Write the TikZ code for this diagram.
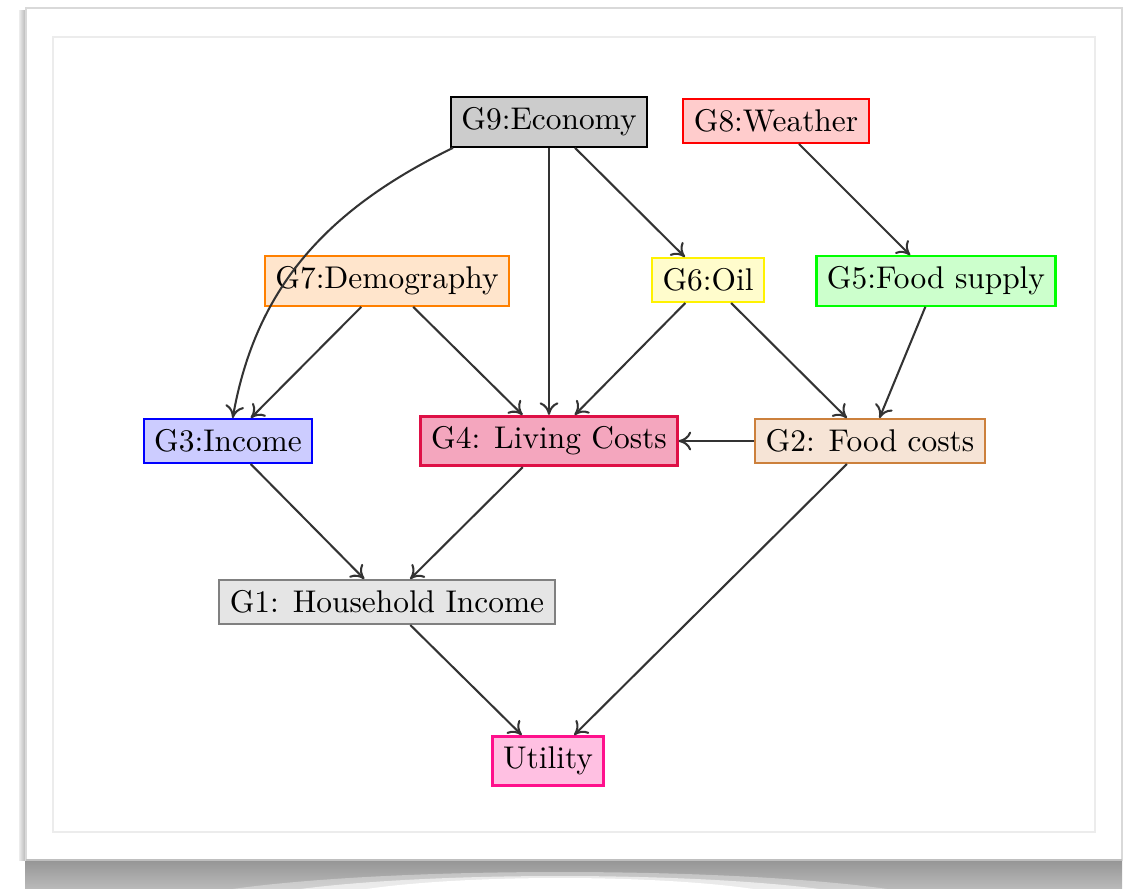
\documentclass[tikz,border=0pt]{standalone}
\usetikzlibrary{arrows.meta}
\definecolor{lcdraw}{RGB}{222,16,70}
\definecolor{lcfill}{RGB}{244,166,190}
\definecolor{utdraw}{RGB}{255,16,140}
\definecolor{utfill}{RGB}{255,192,226}
\definecolor{fcdraw}{RGB}{204,128,60}
\definecolor{fcfill}{RGB}{246,228,214}
\definecolor{framegray}{RGB}{236,236,236}
\tikzset{
  box/.style={draw, rectangle, line width=0.7pt, inner sep=0.3333em},
  link/.style={-{To[length=4pt,width=6pt]}, line width=0.65pt, draw=black!80},
}
\begin{document}
\begin{tikzpicture}[x=0.3185pt, y=-0.3185pt]
\useasboundingbox (0,0) rectangle (1129,888);
% paper card with its shadow
\fill[white] (0,0) rectangle (1129,888);
\shade[top color=gray!85, bottom color=gray!55] (25,858) rectangle (1122,888);
\fill[white, opacity=0.35] (560,912) ellipse (400 and 40);
\fill[white, opacity=0.6] (560,910) ellipse (330 and 34);
\fill[white] (560,908) ellipse (250 and 30);
\shade[left color=gray!15, right color=gray!60] (19,10) rectangle (26,860);
\fill[white] (26,8) rectangle (1122,860);
\draw[gray!30, line width=0.6pt] (26,8) rectangle (1122,860);
\draw[gray!50, line width=0.8pt] (26,860) -- (1122,860);
\draw[framegray, line width=0.8pt] (53,37) rectangle (1095,832);

% nodes
\node[box, fill=gray!40, draw=black]        (g9) at (549,122) {G9:Economy};
\node[box, fill=red!20, draw=red]           (g8) at (776,121) {G8:Weather};
\node[box, fill=orange!20, draw=orange]     (g7) at (387,281) {G7:Demography};
\node[box, fill=yellow!20, draw=yellow]     (g6) at (708,280) {G6:Oil};
\node[box, fill=green!20, draw=green]       (g5) at (936,281) {G5:Food supply};
\node[box, fill=blue!20, draw=blue]         (g3) at (228,441) {G3:Income};
\node[box, fill=lcfill, draw=lcdraw, line width=0.85pt] (g4) at (549,441) {G4: Living Costs};
\node[box, fill=fcfill, draw=fcdraw]        (g2) at (870,441) {G2: Food costs};
\node[box, fill=gray!20, draw=gray]         (g1) at (387,602) {G1: Household Income};
\node[box, fill=utfill, draw=utdraw, line width=0.9pt] (ut) at (548,761) {Utility};

% dependencies
\draw[link] ([xshift=1pt]g9.south west) to[out=206, in=80] ([xshift=1.5pt]g3.north);
\draw[link] (g9) -- (g4);
\draw[link] (g9) -- (g6);
\draw[link] (g8) -- (g5);
\draw[link] (g7) -- (g3);
\draw[link] (g7) -- (g4);
\draw[link] (g6) -- (g4);
\draw[link] (g6) -- (g2);
\draw[link] (g5) -- (g2);
\draw[link] (g2) -- (g4);
\draw[link] (g3) -- (g1);
\draw[link] (g4) -- (g1);
\draw[link] (g1) -- (ut);
\draw[link] (g2) -- (ut);
\end{tikzpicture}
\end{document}
